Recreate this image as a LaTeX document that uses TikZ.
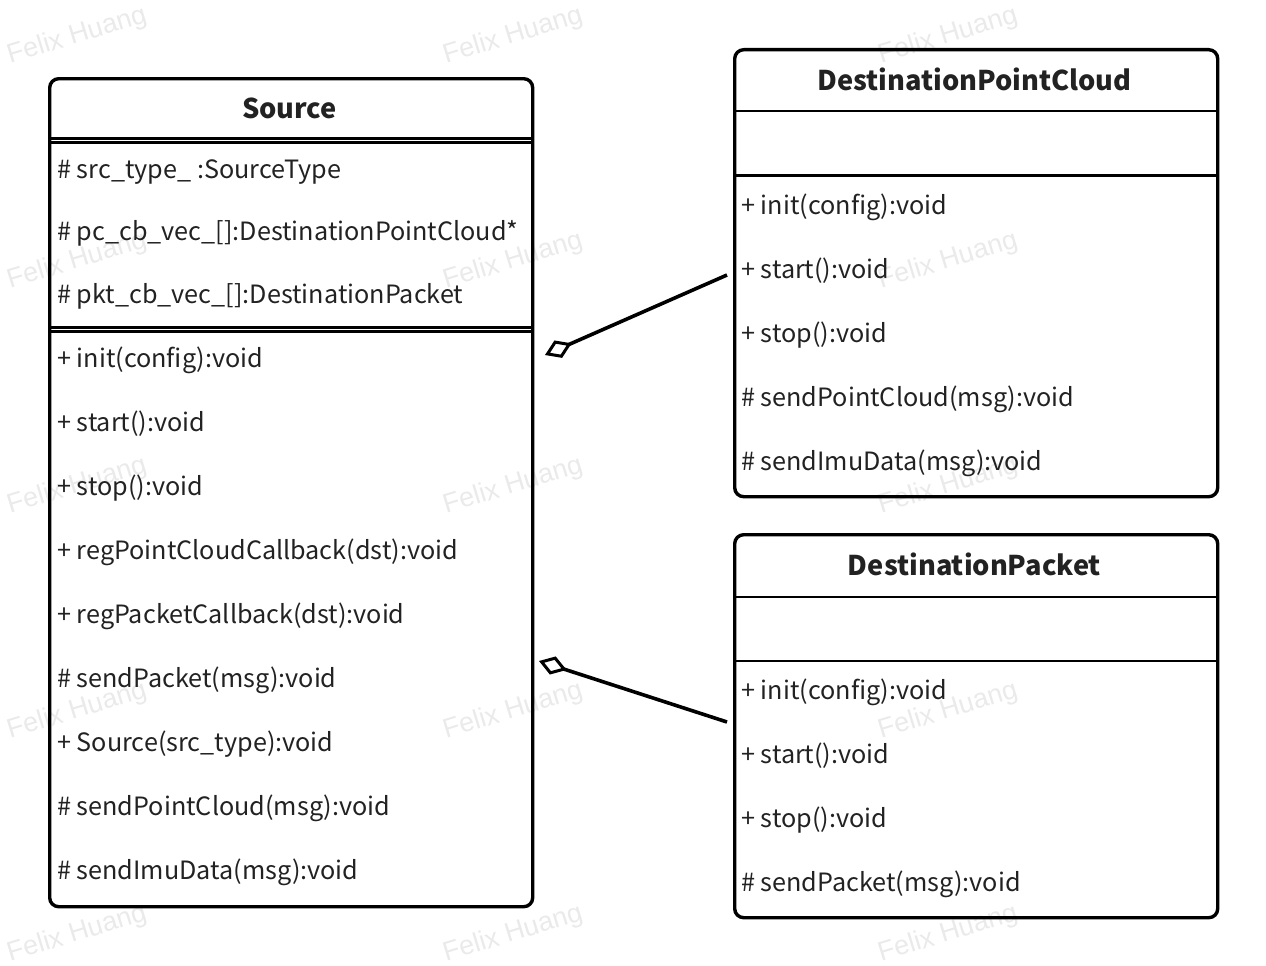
\documentclass[tikz,border=0pt]{standalone}
\usepackage{fontspec}
\setmainfont{Noto Sans CJK SC}
\newfontfamily\wmfont{Liberation Sans}
\usetikzlibrary{arrows.meta}
\definecolor{txt}{HTML}{222222}
\definecolor{wm}{HTML}{EAEAEA}
\tikzset{
  classbox/.style={draw=black, line width=3.4pt, rounded corners=9pt, anchor=north west, inner sep=0pt},
  sep/.style={line width=2.8pt},
  member/.style={anchor=west, inner sep=0pt, text=txt, font=\fontsize{25.2}{29}\selectfont},
  title/.style={inner sep=0pt, text=txt, font=\fontsize{27.2}{31}\selectfont\bfseries},
  watermark/.style={text=wm, rotate=17, font=\wmfont\fontsize{27}{30}\selectfont, inner sep=0pt},
  agg/.style={line width=3.6pt, {Diamond[open, length=29pt, width=19pt, line width=3pt]}-}
}
\begin{document}
\begin{tikzpicture}[x=1pt, y=-1pt]
\useasboundingbox (0,0) rectangle (1266,966);
% watermarks
\foreach \wx in {77,513,948} {
  \foreach \wy in {36,261,486,711,934} {
    \node[watermark] at (\wx,\wy) {Felix Huang};
  }
}
% Source
\node[classbox, minimum width=483pt, minimum height=828pt] (src) at (48,77) {};
\node[title] (srct) at (289.5,108) {Source};
\draw[sep] (src.west |- 0,138.5) -- (src.east |- 0,138.5);
\draw[sep] (src.west |- 0,142.5) -- (src.east |- 0,142.5);
\draw[sep] (src.west |- 0,327.5) -- (src.east |- 0,327.5);
\draw[sep] (src.west |- 0,331.5) -- (src.east |- 0,331.5);
\node[member] (s1) at (57,172) {\# src\_type\_ :SourceType};
\node[member] (s2) at (57,233) {\# pc\_cb\_vec\_[]:DestinationPointCloud*};
\node[member] (s3) at (57,296) {\# pkt\_cb\_vec\_[]:DestinationPacket};
\node[member] (s4) at (57,360) {+ init(config):void};
\node[member] (s5) at (57,424) {+ start():void};
\node[member] (s6) at (57,488) {+ stop():void};
\node[member] (s7) at (57,552) {+ regPointCloudCallback(dst):void};
\node[member] (s8) at (57,616) {+ regPacketCallback(dst):void};
\node[member] (s9) at (57,680) {\# sendPacket(msg):void};
\node[member] (s10) at (57,744) {+ Source(src\_type):void};
\node[member] (s11) at (57,808) {\# sendPointCloud(msg):void};
\node[member] (s12) at (57,872) {\# sendImuData(msg):void};
% DestinationPointCloud
\node[classbox, minimum width=483pt, minimum height=447pt] (dpc) at (733,48) {};
\node[title] (dpct) at (974.5,79) {DestinationPointCloud};
\draw[sep] (dpc.west |- 0,111) -- (dpc.east |- 0,111);
\draw[sep] (dpc.west |- 0,175.5) -- (dpc.east |- 0,175.5);
\node[member] (c1) at (741,207) {+ init(config):void};
\node[member] (c2) at (741,271) {+ start():void};
\node[member] (c3) at (741,335) {+ stop():void};
\node[member] (c4) at (741,399) {\# sendPointCloud(msg):void};
\node[member] (c5) at (741,463) {\# sendImuData(msg):void};
% DestinationPacket
\node[classbox, minimum width=483pt, minimum height=383pt] (dp) at (733,533) {};
\node[title] (dpt) at (974.5,564) {DestinationPacket};
\draw[sep] (dp.west |- 0,597) -- (dp.east |- 0,597);
\draw[sep] (dp.west |- 0,661) -- (dp.east |- 0,661);
\node[member] (p1) at (741,692) {+ init(config):void};
\node[member] (p2) at (741,756) {+ start():void};
\node[member] (p3) at (741,820) {+ stop():void};
\node[member] (p4) at (741,884) {\# sendPacket(msg):void};
% aggregation connectors
\coordinate (a1s) at (545,355);
\coordinate (a1e) at (727,275);
\coordinate (a2s) at (539,661);
\coordinate (a2e) at (727,722);
\draw[agg] (a1s) -- (a1e);
\draw[agg] (a2s) -- (a2e);
\end{tikzpicture}
\end{document}
